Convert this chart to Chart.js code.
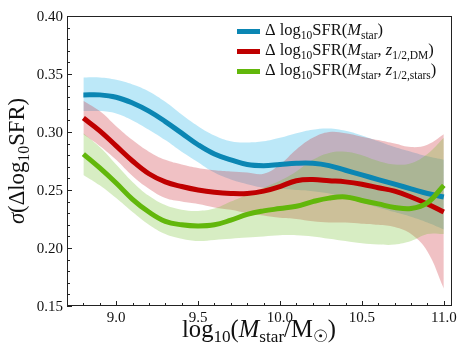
<!DOCTYPE html>
<html>
<head>
<meta charset="utf-8">
<script src="https://cdn.jsdelivr.net/npm/chart.js@4.4.0/dist/chart.umd.min.js"></script>
<style>
  html, body { margin: 0; padding: 0; background: #fff; }
  #wrap { width: 469px; height: 361px; }
</style>
</head>
<body>
<div id="wrap"><canvas id="chart" width="469" height="361"></canvas></div>
<script>
/* scatter of SFR residuals vs stellar mass, three models with 1-sigma bands */

const MASS = [8.8, 8.9, 9.0, 9.1, 9.2, 9.3, 9.4, 9.5, 9.6, 9.7, 9.8, 9.9,
              10.0, 10.1, 10.2, 10.3, 10.4, 10.5, 10.6, 10.7, 10.8, 10.9, 11.0];

// sigma(Delta log SFR) for Mstar only
const SIG_M    = [0.332, 0.332, 0.330, 0.325, 0.318, 0.309, 0.299, 0.289, 0.281, 0.276, 0.272, 0.271,
                  0.272, 0.273, 0.273, 0.271, 0.267, 0.263, 0.259, 0.255, 0.251, 0.247, 0.244];
const SIG_M_HI = [0.347, 0.347, 0.345, 0.341, 0.335, 0.326, 0.315, 0.305, 0.297, 0.292, 0.291, 0.292,
                  0.295, 0.299, 0.302, 0.303, 0.301, 0.297, 0.292, 0.287, 0.283, 0.279, 0.276];
const SIG_M_LO = [0.318, 0.318, 0.316, 0.310, 0.302, 0.293, 0.283, 0.274, 0.265, 0.259, 0.255, 0.252,
                  0.251, 0.250, 0.249, 0.247, 0.243, 0.239, 0.235, 0.231, 0.227, 0.222, 0.216];

// Mstar + z1/2,DM
const SIG_DM    = [0.312, 0.301, 0.288, 0.275, 0.264, 0.257, 0.253, 0.250, 0.248, 0.247, 0.247, 0.249,
                   0.253, 0.258, 0.259, 0.258, 0.257, 0.255, 0.252, 0.249, 0.244, 0.238, 0.231];
const SIG_DM_HI = [0.327, 0.318, 0.305, 0.293, 0.283, 0.276, 0.272, 0.269, 0.267, 0.266, 0.265, 0.264,
                   0.272, 0.285, 0.295, 0.300, 0.299, 0.296, 0.293, 0.290, 0.287, 0.289, 0.298];
const SIG_DM_LO = [0.298, 0.288, 0.276, 0.262, 0.251, 0.243, 0.240, 0.238, 0.235, 0.233, 0.230, 0.228,
                   0.226, 0.225, 0.223, 0.222, 0.222, 0.221, 0.220, 0.218, 0.212, 0.197, 0.165];

// Mstar + z1/2,stars
const SIG_ST    = [0.281, 0.269, 0.256, 0.242, 0.231, 0.223, 0.220, 0.219, 0.220, 0.224, 0.229, 0.232,
                   0.234, 0.236, 0.240, 0.243, 0.244, 0.241, 0.238, 0.235, 0.234, 0.239, 0.254];
const SIG_ST_HI = [0.299, 0.287, 0.272, 0.257, 0.245, 0.237, 0.233, 0.232, 0.234, 0.240, 0.246, 0.252,
                   0.258, 0.266, 0.276, 0.282, 0.283, 0.280, 0.275, 0.272, 0.273, 0.281, 0.295];
const SIG_ST_LO = [0.263, 0.254, 0.243, 0.231, 0.220, 0.212, 0.208, 0.206, 0.207, 0.208, 0.209, 0.210,
                   0.211, 0.211, 0.210, 0.208, 0.206, 0.204, 0.203, 0.203, 0.206, 0.212, 0.212];

const X_MAJOR = [9.0, 9.5, 10.0, 10.5, 11.0];
const X_LABELS = ['9.0', '9.5', '10.0', '10.5', '11.0'];
const Y_MAJOR = [0.15, 0.20, 0.25, 0.30, 0.35, 0.40];
const Y_LABELS = ['0.15', '0.20', '0.25', '0.30', '0.35', '0.40'];

const LINE_COLORS = ['#0b86b3', '#bf0000', '#62b70b'];
const BAND_COLORS = ['rgba(70,190,235,0.36)', 'rgba(205,50,60,0.30)', 'rgba(110,190,40,0.28)'];

const SERIF = "'Liberation Serif', 'DejaVu Serif', serif";

const pts = arr => MASS.map((m, i) => ({ x: m, y: arr[i] }));

function band(arr, color, fill, order) {
  return { data: pts(arr), borderWidth: 0, pointRadius: 0, tension: 0.4,
           backgroundColor: color, fill: fill, order: order };
}
function line(arr, color, order) {
  return { data: pts(arr), borderColor: color, borderWidth: 5, pointRadius: 0,
           tension: 0.4, fill: false, order: order };
}

/* ── rich text: [text, kind] with kind 'i' italic, 's' subscript ── */
function richWidth(ctx, segs, size) {
  let w = 0;
  segs.forEach(([t, k]) => { ctx.font = fontFor(k, size); w += ctx.measureText(t).width; });
  return w;
}
function fontFor(k, size) {
  return (k.includes('i') ? 'italic ' : '') + (k.includes('s') ? (size * 0.7).toFixed(1) : size.toFixed(1)) + 'px ' + SERIF;
}
function richText(ctx, segs, x, y, size, align) {
  const w = richWidth(ctx, segs, size);
  let cx = align === 'center' ? x - w / 2 : (align === 'right' ? x - w : x);
  ctx.textAlign = 'left';
  ctx.textBaseline = 'alphabetic';
  segs.forEach(([t, k]) => {
    ctx.font = fontFor(k, size);
    ctx.fillText(t, cx, y + (k.includes('s') ? size * 0.22 : 0));
    cx += ctx.measureText(t).width;
  });
}
function fitSize(ctx, segs, target) {
  return 20 * target / richWidth(ctx, segs, 20);
}

const LEGEND = [
  [['Δ log', ''], ['10', 's'], ['SFR(', ''], ['M', 'i'], ['star', 's'], [')', '']],
  [['Δ log', ''], ['10', 's'], ['SFR(', ''], ['M', 'i'], ['star', 's'], [', ', ''], ['z', 'i'], ['1/2,DM', 's'], [')', '']],
  [['Δ log', ''], ['10', 's'], ['SFR(', ''], ['M', 'i'], ['star', 's'], [', ', ''], ['z', 'i'], ['1/2,stars', 's'], [')', '']]
];
const X_TITLE = [['log', ''], ['10', 's'], ['(', ''], ['M', 'i'], ['star', 's'], ['/M', ''], ['☉', 's'], [')', '']];
const Y_TITLE = [['σ', 'i'], ['(Δlog', ''], ['10', 's'], ['SFR)', '']];

const axesPlugin = {
  id: 'axesPlugin',
  afterDraw(chart) {
    const ctx = chart.ctx;
    const a = chart.chartArea;
    const xs = chart.scales.x, ys = chart.scales.y;
    ctx.save();
    ctx.strokeStyle = '#222';
    ctx.lineWidth = 1;
    ctx.strokeRect(a.left + 0.5, a.top + 0.5, a.right - a.left - 1, a.bottom - a.top - 1);

    // x ticks (inward)
    ctx.beginPath();
    for (let i = 88; i <= 110; i++) {
      const v = i / 10;
      const px = Math.round(xs.getPixelForValue(v)) + 0.5;
      const len = (i % 5 === 0) ? 5 : 3;
      ctx.moveTo(px, a.bottom); ctx.lineTo(px, a.bottom - len);
    }
    // y ticks (inward)
    for (let i = 15; i <= 40; i++) {
      const v = i / 100;
      const py = Math.round(ys.getPixelForValue(v)) + 0.5;
      const len = (i % 5 === 0) ? 5 : 3;
      ctx.moveTo(a.left, py); ctx.lineTo(a.left + len, py);
    }
    ctx.stroke();

    ctx.fillStyle = '#111';
    ctx.font = '15px ' + SERIF;
    ctx.textAlign = 'center';
    ctx.textBaseline = 'alphabetic';
    X_MAJOR.forEach((v, i) => ctx.fillText(X_LABELS[i], xs.getPixelForValue(v), a.bottom + 16));
    ctx.textAlign = 'right';
    ctx.textBaseline = 'middle';
    Y_MAJOR.forEach((v, i) => ctx.fillText(Y_LABELS[i], a.left - 4, ys.getPixelForValue(v) + 1));

    // axis titles
    const xs1 = fitSize(ctx, X_TITLE, 155);
    richText(ctx, X_TITLE, 259, 337, xs1, 'center');
    const ys1 = fitSize(ctx, Y_TITLE, 126);
    ctx.save();
    ctx.translate(24, (a.top + a.bottom) / 2);
    ctx.rotate(-Math.PI / 2);
    richText(ctx, Y_TITLE, 0, 0, ys1, 'center');
    ctx.restore();

    // legend
    const ls = fitSize(ctx, LEGEND[0], 118);
    LEGEND.forEach((segs, i) => {
      const base = 35 + i * 20;
      ctx.fillStyle = LINE_COLORS[i];
      ctx.fillRect(237, base - 6, 23, 5);
      ctx.fillStyle = '#111';
      richText(ctx, segs, 265, base, ls, 'left');
    });
    ctx.restore();
  }
};

new Chart(document.getElementById('chart'), {
  type: 'line',
  data: {
    datasets: [
      band(SIG_M_HI, BAND_COLORS[0], '+1', 12), band(SIG_M_LO, 'transparent', false, 11),
      band(SIG_DM_HI, BAND_COLORS[1], '+1', 10), band(SIG_DM_LO, 'transparent', false, 9),
      band(SIG_ST_HI, BAND_COLORS[2], '+1', 8), band(SIG_ST_LO, 'transparent', false, 7),
      line(SIG_M, LINE_COLORS[0], 3),
      line(SIG_DM, LINE_COLORS[1], 2),
      line(SIG_ST, LINE_COLORS[2], 1)
    ]
  },
  options: {
    responsive: false,
    animation: false,
    devicePixelRatio: 1,
    layout: { padding: { left: 67, right: 17, top: 16, bottom: 55 } },
    plugins: { legend: { display: false }, tooltip: { enabled: false } },
    scales: {
      x: { type: 'linear', min: 8.7, max: 11.05, display: false },
      y: { type: 'linear', min: 0.15, max: 0.40, display: false }
    }
  },
  plugins: [axesPlugin]
});
</script>
</body>
</html>
